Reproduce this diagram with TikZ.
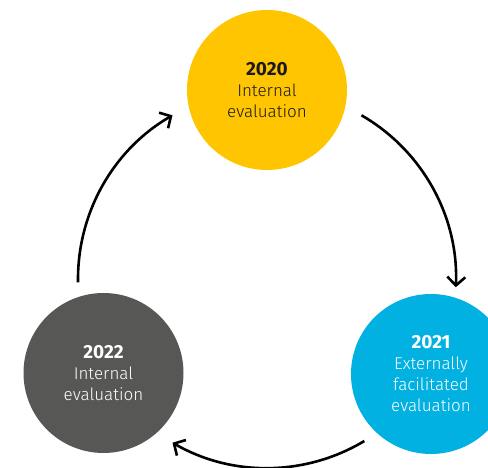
\documentclass[tikz,border=0pt]{standalone}
\usepackage{fontspec}
\IfFontExistsTF{Fira Sans Light}{%
  \setmainfont{Fira Sans}[UprightFont=* Light, BoldFont=* Bold]}{%
  \setmainfont{Fira Sans}}
\usetikzlibrary{arrows.meta,calc}
\definecolor{yel}{HTML}{FFC500}
\definecolor{blu}{HTML}{00B1E1}
\definecolor{gry}{HTML}{575756}
\definecolor{ink}{HTML}{1A1A1A}
\newcommand{\yr}[1]{{\fontsize{19}{21}\selectfont\bfseries #1}}
\begin{document}
\begin{tikzpicture}[x=1pt,y=1pt,
  bubble/.style={circle, minimum size=160pt, inner sep=0pt, align=center,
    font=\fontsize{17}{21}\selectfont},
  arr/.style={line width=2.6pt,
    -{Straight Barb[length=8.5pt,width=18pt]}}]
\useasboundingbox (0,0) rectangle (488,468);
\clip (0,0) rectangle (488,468);
\node[bubble, fill=yel, text=ink] (y20) at (267,378)
  {\yr{2020}\\Internal\\evaluation};
\node[bubble, fill=blu, text=white] (y21) at (431,94)
  {\yr{2021}\\Externally\\facilitated\\evaluation};
\node[bubble, fill=gry, text=white] (y22) at (103.5,95)
  {\yr{2022}\\Internal\\evaluation};
\coordinate (c) at (267,189);
\coordinate (a1) at ($(c)+(60:189)$);
\coordinate (a2) at ($(c)+(-59:189)$);
\coordinate (a3) at ($(c)+(181:189)$);
\draw[arr] (a1) arc[start angle=60, end angle=-2.5, radius=189];
\draw[arr] (a2) arc[start angle=-59, end angle=-120, radius=189];
\draw[arr] (a3) arc[start angle=181, end angle=120, radius=189];
\end{tikzpicture}
\end{document}
